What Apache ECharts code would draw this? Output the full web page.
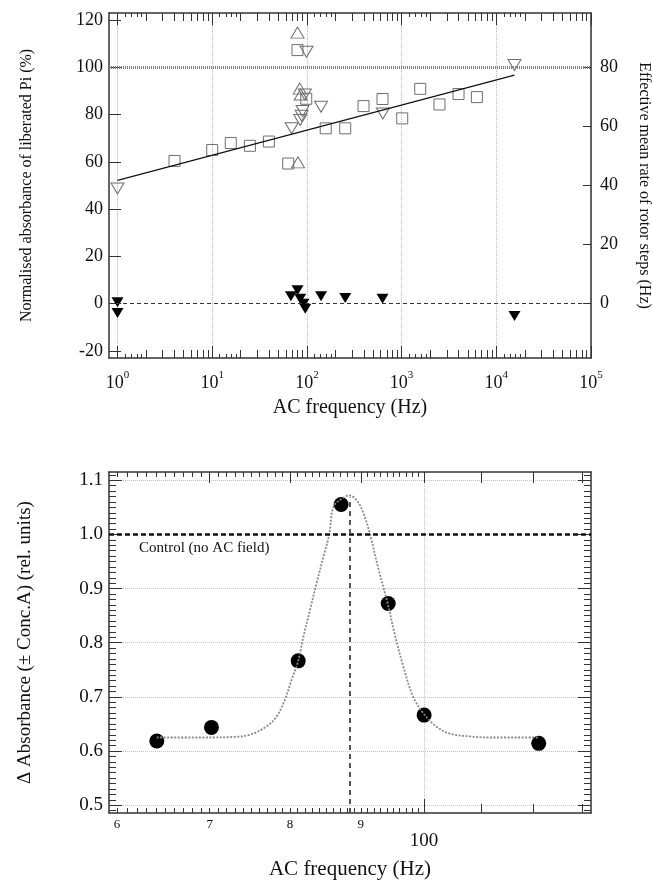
<!DOCTYPE html>
<html>
<head>
<meta charset="utf-8">
<title></title>
<script src="https://cdn.jsdelivr.net/npm/echarts@6/dist/echarts.min.js"></script>
</head>
<body style="margin:0;background-color:#ffffff;">
<div id="container" style="width:652px;height:883px;"></div>
<script type="text/javascript">

// ---- top panel: open symbols = % absorbance (left axis), filled = rotor step rate (right axis)
var squares = [[4,60.4],[10,65],[15.7,68],[25,66.8],[39.7,68.6],[63.5,59.3],[79.6,107.3],[98.4,86.7],
	[158,74.2],[254,74.2],[396,83.6],[629,86.6],[1015,78.4],[1573,90.9],[2512,84.3],[3990,88.7],[6237,87.4]];
var upTriangles = [[79.6,114.7],[84,91],[86,88.5],[80.5,59.8]];
var downTriangles = [[1,48.7],[69,74.2],[85,77.7],[88,79.5],[90,81.5],[95,88.5],[99,106.6],[141,83.3],[634,80.5],[15560,101]];
var rotorRate = [[1,0.5],[1,-3.2],[67.8,2.5],[79.6,4.5],[85,1.7],[92,0],[96,-1.7],[141,2.5],[254,1.9],[629,1.7],[15560,-4.2]];
var fitLine = [[1,52.2],[15560,96.7]];
var decades = [1,10,100,1000,10000,100000];
var pctTicks = [-20,0,20,40,60,80,100,120];
var rateTicks = [0,20,40,60,80];

// ---- bottom panel
var freqs = [64.1,70.2,81.1,87.1,94.2,100,121];
var absorb = [0.6185,0.6437,0.7666,1.0552,0.8725,0.6664,0.6142];
var fitFreq = [64.1,68.9,72.8,74.8,76.9,78.2,79.3,80.2,81.1,81.8,82.7,83.6,84.7,85.4,86.0,87.2,88.3,89.4,
	90.4,91.4,92.6,94.1,95.2,96.6,98.2,100,102.1,104.4,107.9,111.5,121];
var fitAbs = [0.625,0.625,0.626,0.630,0.645,0.663,0.694,0.731,0.766,0.811,0.860,0.909,0.965,1.0,1.051,1.066,1.072,1.063,
	1.039,1.0,0.940,0.873,0.817,0.756,0.700,0.668,0.645,0.632,0.627,0.625,0.625];
var freqLabels = [60,70,80,90,100];
var absTicks = [0.5,0.6,0.7,0.8,0.9,1.0,1.1];
var controlLevel = 1.0;
var peakFreq = 88.4, peakTop = 1.068;

var serif = '"Liberation Serif", "Times New Roman", serif';
var ink = '#111';

// minor tick positions
var midTicks = [], shortTicks = [];
for (var d = 1; d < 100000; d *= 10) {
	for (var m = 2; m <= 9; m++) midTicks.push(m * d);
	[1.2,1.4,1.6,1.8].forEach(function(f){ shortTicks.push(Math.round(f * d * 10) / 10); });
}
var hzMinor = [];
for (var h = 60; h < 100; h++) hzMinor.push(h);
var absMinor = [];
for (var k = 49; k <= 111; k++) absMinor.push(k / 100);

function tickAxis(grid, pos, type, min, max, values, len, extra) {
	var a = {
		gridIndex: grid, position: pos, type: type, min: min, max: max,
		axisLine: {show: false, onZero: false},
		axisTick: {show: true, inside: true, length: len, customValues: values, lineStyle: {color: '#333', width: 1}},
		axisLabel: {show: false},
		splitLine: {show: false}
	};
	if (type === 'log') a.logBase = 10;
	for (var p in extra) a[p] = extra[p];
	return a;
}
var spine = {show: true, onZero: false, lineStyle: {color: '#333', width: 1.5}};

var TX0 = 0.813, TX1 = 100000, TY0 = -23, TY1 = 123;
var BX0 = 59.2, BX1 = 132, BY0 = 0.4856, BY1 = 1.1153;

var xAxes = [
	// top panel
	tickAxis(0, 'bottom', 'log', TX0, TX1, decades, 12, {
		axisLine: spine,
		axisLabel: {
			show: true, customValues: decades, margin: 12,
			formatter: function(v){ return '{b|10}{s|' + Math.round(Math.log(v) / Math.LN10) + '}'; },
			rich: {
				b: {fontSize: 18, fontFamily: serif, color: ink, lineHeight: 22, verticalAlign: 'bottom'},
				s: {fontSize: 11, fontFamily: serif, color: ink, lineHeight: 22, verticalAlign: 'top'}
			}
		},
		splitLine: {show: true, lineStyle: {color: '#b4b4f0', type: 'dotted', width: 1}},
		name: 'AC frequency (Hz)', nameLocation: 'middle', nameGap: 40,
		nameTextStyle: {fontSize: 20, fontFamily: serif, color: ink}
	}),
	tickAxis(0, 'bottom', 'log', TX0, TX1, midTicks, 8),
	tickAxis(0, 'bottom', 'log', TX0, TX1, shortTicks, 4),
	tickAxis(0, 'top', 'log', TX0, TX1, decades, 12, {axisLine: spine}),
	tickAxis(0, 'top', 'log', TX0, TX1, midTicks, 8),
	tickAxis(0, 'top', 'log', TX0, TX1, shortTicks, 4),
	// bottom panel
	tickAxis(1, 'bottom', 'log', BX0, BX1, [100], 14, {
		axisLine: spine,
		axisLabel: {
			show: true, customValues: freqLabels, margin: 5,
			formatter: function(v){ return v === 100 ? '{big|100}' : '{sm|' + Math.round(v / 10) + '}'; },
			rich: {
				sm: {fontSize: 13, fontFamily: serif, color: ink},
				big: {fontSize: 19, fontFamily: serif, color: ink, padding: [14, 0, 0, 0]}
			}
		},
		splitLine: {show: true, lineStyle: {color: '#c4c4c4', type: 'dotted', width: 1}},
		name: 'AC frequency (Hz)', nameLocation: 'middle', nameGap: 46,
		nameTextStyle: {fontSize: 21, fontFamily: serif, color: ink}
	}),
	tickAxis(1, 'bottom', 'log', BX0, BX1, [110,120,130], 9),
	tickAxis(1, 'bottom', 'log', BX0, BX1, hzMinor, 5),
	tickAxis(1, 'top', 'log', BX0, BX1, [70,80,90,100,110,120,130], 11, {axisLine: spine}),
	tickAxis(1, 'top', 'log', BX0, BX1, hzMinor, 5)
];

var yAxes = [
	tickAxis(0, 'left', 'value', TY0, TY1, pctTicks, 12, {
		axisLine: spine,
		axisLabel: {show: true, customValues: pctTicks, margin: 6, fontSize: 18, fontFamily: serif, color: ink},
		name: 'Normalised absorbance of liberated Pi (%)', nameLocation: 'middle', nameGap: 74,
		nameTextStyle: {fontSize: 16, fontFamily: serif, color: ink}
	}),
	tickAxis(0, 'right', 'value', TY0 * 0.8, TY1 * 0.8, rateTicks, 8, {
		axisLine: spine,
		axisLabel: {show: true, customValues: rateTicks, margin: 9, fontSize: 18, fontFamily: serif, color: ink},
		name: 'Effective mean rate of rotor steps (Hz)', nameLocation: 'middle', nameGap: 45, nameRotate: -90,
		nameTextStyle: {fontSize: 16, fontFamily: serif, color: ink}
	}),
	tickAxis(1, 'left', 'value', BY0, BY1, absTicks, 13, {
		axisLine: spine,
		axisLabel: {show: true, customValues: absTicks, margin: 6, fontSize: 19, fontFamily: serif, color: ink,
			formatter: function(v){ return v.toFixed(1); }},
		splitLine: {show: true, lineStyle: {color: '#c4c4c4', type: 'dotted', width: 1}},
		name: '\u0394 Absorbance (\u00b1 Conc.A) (rel. units)', nameLocation: 'middle', nameGap: 74,
		nameTextStyle: {fontSize: 19, fontFamily: serif, color: ink}
	}),
	tickAxis(1, 'left', 'value', BY0, BY1, absMinor, 7),
	tickAxis(1, 'right', 'value', BY0, BY1, absTicks, 13, {axisLine: spine}),
	tickAxis(1, 'right', 'value', BY0, BY1, absMinor, 7)
];

var openStyle = {color: 'rgba(0,0,0,0)', borderColor: '#6e6e6e', borderWidth: 1, opacity: 1};

var option = {
	backgroundColor: '#ffffff',
	animation: false,
	textStyle: {fontFamily: serif},
	grid: [
		{left: 109, top: 13, width: 482, height: 345, outerBoundsMode: 'none', containLabel: false},
		{left: 109, top: 472, width: 482, height: 341, outerBoundsMode: 'none', containLabel: false}
	],
	xAxis: xAxes,
	yAxis: yAxes,
	series: [
		{
			type: 'line', xAxisIndex: 0, yAxisIndex: 0, data: fitLine, symbol: 'none', silent: true,
			lineStyle: {color: '#111', width: 1.2},
			markLine: {
				silent: true, symbol: ['none', 'none'], label: {show: false},
				data: [
					{yAxis: 100, lineStyle: {color: '#808080', width: 3, type: [1, 1]}},
					{yAxis: 0, lineStyle: {color: '#333', width: 1, type: [4, 3]}}
				]
			}
		},
		{type: 'scatter', xAxisIndex: 0, yAxisIndex: 0, data: squares, symbol: 'rect', symbolSize: 11, itemStyle: openStyle},
		{type: 'scatter', xAxisIndex: 0, yAxisIndex: 0, data: upTriangles, symbol: 'triangle', symbolSize: [13, 11], itemStyle: openStyle},
		{type: 'scatter', xAxisIndex: 0, yAxisIndex: 0, data: downTriangles, symbol: 'triangle', symbolRotate: 180, symbolSize: [13, 11], itemStyle: openStyle},
		{type: 'scatter', xAxisIndex: 0, yAxisIndex: 1, data: rotorRate, symbol: 'triangle', symbolRotate: 180, symbolSize: [12, 10], itemStyle: {color: '#000', opacity: 1}},
		{
			type: 'line', xAxisIndex: 6, yAxisIndex: 2, symbol: 'none', smooth: 0.35, silent: true,
			data: fitFreq.map(function(f, i){ return [f, fitAbs[i]]; }),
			lineStyle: {color: '#8a8a8a', width: 1.8, type: [2, 1.5]},
			markLine: {
				silent: true, symbol: ['none', 'none'],
				data: [
					{yAxis: controlLevel, lineStyle: {color: '#111', width: 2.5, type: [5, 3]},
						label: {show: true, position: 'insideStartBottom', formatter: 'Control (no AC field)',
							fontSize: 15, fontFamily: serif, color: ink, distance: 6, padding: [0, 0, 0, 24]}},
					[{coord: [peakFreq, BY0], lineStyle: {color: '#555', width: 2, type: [5, 4]}, label: {show: false}},
					 {coord: [peakFreq, peakTop]}]
				]
			}
		},
		{type: 'scatter', xAxisIndex: 6, yAxisIndex: 2, symbol: 'circle', symbolSize: 15, itemStyle: {color: '#000', opacity: 1},
			data: freqs.map(function(f, i){ return [f, absorb[i]]; })}
	]
};

var myChart = echarts.init(document.getElementById('container'));
myChart.setOption(option);
</script>
</body>
</html>
